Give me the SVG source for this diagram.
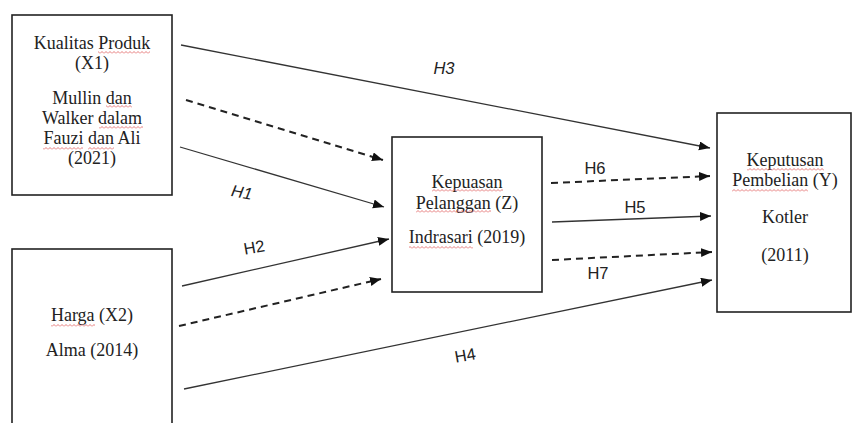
<svg xmlns="http://www.w3.org/2000/svg" width="856" height="423" viewBox="0 0 856 423">
<style>
.box{fill:#fff;stroke:#222;stroke-width:1.6}
.t{font-family:"Liberation Serif","Times New Roman",serif;font-size:18px;fill:#222;text-anchor:middle}
.sp{fill:url(#wave)}
.c{stroke:#333;stroke-width:1.3;fill:none;marker-end:url(#ah)}
.d{stroke:#222;stroke-width:2;stroke-dasharray:7 5;fill:none;marker-end:url(#ah)}
.l{font-family:"Liberation Sans",Arial,sans-serif;font-size:16.5px;fill:#222;text-anchor:middle}
.i{font-style:italic}
</style>
<defs>
<marker id="ah" markerUnits="userSpaceOnUse" markerWidth="12" markerHeight="10" refX="11" refY="4.5" orient="auto">
<path d="M0,0 L11,4.5 L0,9 z" fill="#111"/>
</marker>
<pattern id="wave" patternUnits="userSpaceOnUse" width="4" height="3">
<path d="M0,2.5 L2,0.5 L4,2.5" stroke="#e05a5a" stroke-width="0.8" fill="none"/>
</pattern>
</defs>
<rect width="856" height="423" fill="#fff"/>
<g id="x1">
<rect class="box" x="12" y="15" width="160" height="180"/>
<text class="t" x="92" y="49">Kualitas Produk</text>
<text class="t" x="92" y="69">(X1)</text>
<text class="t" x="92" y="104">Mullin dan</text>
<text class="t" x="92" y="124">Walker dalam</text>
<text class="t" x="92" y="144">Fauzi dan Ali</text>
<text class="t" x="92" y="164">(2021)</text>
<rect class="sp" x="98" y="51" width="52" height="3"/>
<rect class="sp" x="106" y="105" width="26" height="3"/>
<rect class="sp" x="99" y="126" width="44" height="3"/>
<rect class="sp" x="43" y="147" width="40" height="3"/>
<rect class="sp" x="88" y="147" width="26" height="3"/>
</g>
<g id="x2">
<rect class="box" x="12" y="249" width="160" height="190"/>
<text class="t" x="92" y="321">Harga (X2)</text>
<text class="t" x="92" y="356">Alma (2014)</text>
<rect class="sp" x="51" y="324" width="44" height="3"/>
</g>
<g id="z">
<rect class="box" x="392" y="137" width="150" height="155"/>
<text class="t" x="467" y="188">Kepuasan</text>
<text class="t" x="467" y="209">Pelanggan (Z)</text>
<text class="t" x="467" y="243">Indrasari (2019)</text>
<rect class="sp" x="432" y="189" width="71" height="3"/>
<rect class="sp" x="416" y="210" width="75" height="3"/>
<rect class="sp" x="409" y="246" width="64" height="3"/>
</g>
<g id="y">
<rect class="box" x="717" y="113" width="134" height="199"/>
<text class="t" x="785" y="166">Keputusan</text>
<text class="t" x="785" y="186">Pembelian (Y)</text>
<text class="t" x="785" y="223">Kotler</text>
<text class="t" x="785" y="261">(2011)</text>
<rect class="sp" x="747" y="168" width="77" height="3"/>
<rect class="sp" x="732" y="189" width="76" height="3"/>
</g>
<g id="connectors">
<line class="c" x1="181" y1="45" x2="710" y2="148"/>
<line class="d" x1="186" y1="100" x2="383" y2="160"/>
<line class="c" x1="180" y1="147" x2="384" y2="207"/>
<line class="c" x1="182" y1="286" x2="389" y2="239"/>
<line class="d" x1="179" y1="326" x2="381" y2="279"/>
<line class="c" x1="184" y1="389" x2="712" y2="280"/>
<line class="d" x1="551" y1="183" x2="710" y2="176"/>
<line class="c" x1="552" y1="222" x2="711" y2="216"/>
<line class="d" x1="552" y1="260" x2="712" y2="252"/>
<text class="l i" x="444" y="74">H3</text>
<text class="l i" x="242" y="198" transform="rotate(10 242 192)">H1</text>
<text class="l" x="254" y="253" transform="rotate(-10 254 247)">H2</text>
<text class="l" x="465" y="361" transform="rotate(-10 465 355)">H4</text>
<text class="l" x="635" y="213">H5</text>
<text class="l" x="595" y="174">H6</text>
<text class="l" x="598" y="279">H7</text>
</g>
</svg>
